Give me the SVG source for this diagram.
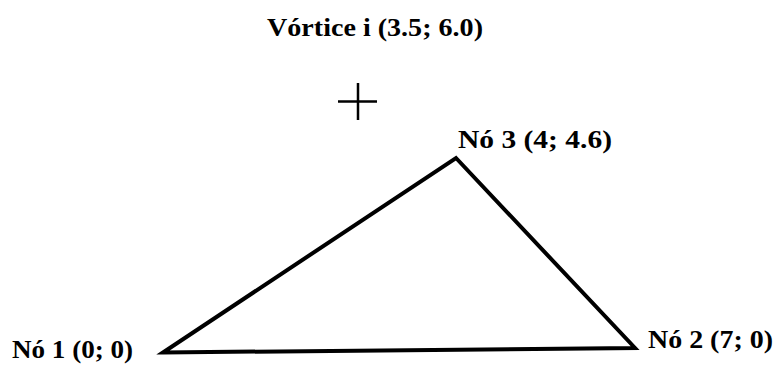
<svg xmlns="http://www.w3.org/2000/svg" width="779" height="369" viewBox="0 0 779 369">
<style>
.lbl{font-family:"Liberation Serif","Times New Roman",serif;font-weight:bold;font-size:26px;fill:#000}
.edge{stroke:#000;stroke-width:4;fill:none;stroke-linejoin:miter}
</style>
<rect width="779" height="369" fill="#fff"/>
<g id="vortex">
<text class="lbl" x="267" y="36" textLength="216" lengthAdjust="spacingAndGlyphs">Vórtice i (3.5; 6.0)</text>
<path d="M338 101.5H377M358 83V120" stroke="#000" stroke-width="2.5" fill="none"/>
</g>
<g id="connectors">
<path class="edge" d="M163 352.5L635 348L456 158Z"/>
</g>
<g id="node1"><text class="lbl" x="12" y="358" textLength="121" lengthAdjust="spacingAndGlyphs">Nó 1 (0; 0)</text></g>
<g id="node2"><text class="lbl" x="648" y="348" textLength="125" lengthAdjust="spacingAndGlyphs">Nó 2 (7; 0)</text></g>
<g id="node3"><text class="lbl" x="458" y="148" textLength="154" lengthAdjust="spacingAndGlyphs">Nó 3 (4; 4.6)</text></g>
</svg>
